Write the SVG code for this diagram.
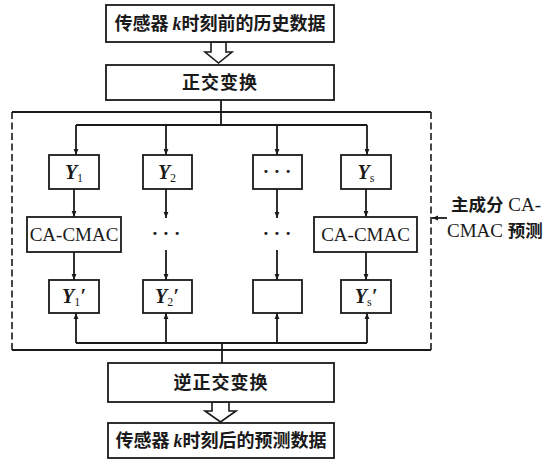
<svg xmlns="http://www.w3.org/2000/svg" width="559" height="461" viewBox="0 0 559 461">
<style>
.box{fill:#fff;stroke:#1a1a1a;stroke-width:1.8}
.hollow{fill:#fff;stroke:#1a1a1a;stroke-width:1.6;stroke-linejoin:miter}
.ln{fill:none;stroke:#1a1a1a;stroke-width:1.8}
.dash{fill:none;stroke:#1a1a1a;stroke-width:1.6;stroke-dasharray:7 3.5}
.cn{font-family:"Noto Sans CJK SC","Liberation Serif",serif;font-size:18px;font-weight:bold;fill:#1a1a1a;text-anchor:middle}
.lat{font-family:"Liberation Serif","Times New Roman",serif;font-size:19px;fill:#1a1a1a;text-anchor:middle}
.yv{font-family:"Liberation Serif","Times New Roman",serif;font-size:20px;font-weight:bold;font-style:italic;fill:#1a1a1a;text-anchor:middle}
.sub{font-style:normal;font-weight:normal;font-size:12px}
.side{font-family:"Liberation Serif","Noto Sans CJK SC",serif;font-size:19px;fill:#1a1a1a}
.side .c{font-family:"Noto Sans CJK SC",sans-serif;font-weight:bold;font-size:17.5px}
</style>
<defs>
<marker id="ah" viewBox="0 0 10 10" refX="10" refY="5" markerWidth="6" markerHeight="8" markerUnits="userSpaceOnUse" orient="auto">
<path d="M0,1 L10,5 L0,9 Z" fill="#1a1a1a"/>
</marker>
</defs>

<g id="frame">
<line class="ln" x1="12" y1="112" x2="431" y2="112"/>
<line class="ln" x1="12" y1="350" x2="431" y2="350"/>
<line class="dash" x1="12" y1="112" x2="12" y2="350"/>
<line class="dash" x1="431" y1="112" x2="431" y2="350"/>
</g>

<g id="connectors">
<polygon class="hollow" points="211,42 211,52 205,52 218.5,63 232,52 226,52 226,42"/>
<polygon class="hollow" points="212,402 212,411 205,411 220.5,422 236,411 229,411 229,402"/>
<line class="ln" x1="221" y1="100" x2="221" y2="125"/>
<line class="ln" x1="76" y1="125" x2="367" y2="125"/>
<line class="ln" x1="76" y1="125" x2="76" y2="155" marker-end="url(#ah)"/>
<line class="ln" x1="166" y1="125" x2="166" y2="155" marker-end="url(#ah)"/>
<line class="ln" x1="277" y1="125" x2="277" y2="155" marker-end="url(#ah)"/>
<line class="ln" x1="367" y1="125" x2="367" y2="155" marker-end="url(#ah)"/>
<line class="ln" x1="74" y1="189" x2="74" y2="217" marker-end="url(#ah)"/>
<line class="ln" x1="166" y1="189" x2="166" y2="218" marker-end="url(#ah)"/>
<line class="ln" x1="277" y1="189" x2="277" y2="218" marker-end="url(#ah)"/>
<line class="ln" x1="366" y1="189" x2="366" y2="217" marker-end="url(#ah)"/>
<line class="ln" x1="74" y1="252" x2="74" y2="280" marker-end="url(#ah)"/>
<line class="ln" x1="166" y1="250" x2="166" y2="280" marker-end="url(#ah)"/>
<line class="ln" x1="277" y1="250" x2="277" y2="280" marker-end="url(#ah)"/>
<line class="ln" x1="366" y1="252" x2="366" y2="280" marker-end="url(#ah)"/>
<line class="ln" x1="76" y1="343" x2="367" y2="343"/>
<line class="ln" x1="76" y1="343" x2="76" y2="313" marker-end="url(#ah)"/>
<line class="ln" x1="166" y1="343" x2="166" y2="313" marker-end="url(#ah)"/>
<line class="ln" x1="277" y1="343" x2="277" y2="313" marker-end="url(#ah)"/>
<line class="ln" x1="367" y1="343" x2="367" y2="313" marker-end="url(#ah)"/>
<line class="ln" x1="222" y1="343" x2="222" y2="363"/>
<line class="ln" x1="447" y1="218" x2="432" y2="218" marker-end="url(#ah)"/>
</g>

<g id="n_src">
<rect class="box" x="106" y="5" width="228" height="37"/>
<text class="cn" x="220" y="30">传感器 <tspan font-family="Liberation Serif,serif" font-style="italic">k</tspan>时刻前的历史数据</text>
</g>
<g id="n_ortho">
<rect class="box" x="106" y="65" width="228" height="35"/>
<text class="cn" x="220" y="89" letter-spacing="1">正交变换</text>
</g>

<g id="n_y1"><rect class="box" x="49" y="155" width="50" height="34"/><text class="yv" x="74" y="179">Y<tspan class="sub" dy="3">1</tspan></text></g>
<g id="n_y2"><rect class="box" x="143" y="155" width="49" height="34"/><text class="yv" x="167" y="179">Y<tspan class="sub" dy="3">2</tspan></text></g>
<g id="n_ydots"><rect class="box" x="253" y="155" width="49" height="34"/><text class="lat" x="277" y="178" font-weight="bold">· · ·</text></g>
<g id="n_ys"><rect class="box" x="341" y="155" width="50" height="34"/><text class="yv" x="366" y="179">Y<tspan class="sub" font-style="italic" dy="3">s</tspan></text></g>

<g id="n_cmac1"><rect class="box" x="27" y="217" width="94" height="35"/><text class="lat" x="74" y="241">CA-CMAC</text></g>
<g id="n_dots2"><text class="lat" x="166" y="240" font-weight="bold">· · ·</text></g>
<g id="n_dots3"><text class="lat" x="277" y="240" font-weight="bold">· · ·</text></g>
<g id="n_cmacs"><rect class="box" x="314" y="217" width="103" height="35"/><text class="lat" x="365.5" y="241">CA-CMAC</text></g>

<g id="n_y1p"><rect class="box" x="49" y="280" width="50" height="33"/><text class="yv" x="74" y="303">Y<tspan class="sub" dy="3">1</tspan><tspan dy="-3">′</tspan></text></g>
<g id="n_y2p"><rect class="box" x="143" y="280" width="49" height="33"/><text class="yv" x="167" y="303">Y<tspan class="sub" dy="3">2</tspan><tspan dy="-3">′</tspan></text></g>
<g id="n_ydp"><rect class="box" x="253" y="280" width="49" height="33"/></g>
<g id="n_ysp"><rect class="box" x="341" y="280" width="50" height="33"/><text class="yv" x="366" y="303">Y<tspan class="sub" font-style="italic" dy="3">s</tspan><tspan dy="-3">′</tspan></text></g>

<g id="n_inv">
<rect class="box" x="108" y="363" width="226" height="39"/>
<text class="cn" x="221" y="389" letter-spacing="1">逆正交变换</text>
</g>
<g id="n_out">
<rect class="box" x="108" y="423" width="226" height="35"/>
<text class="cn" x="221" y="447">传感器 <tspan font-family="Liberation Serif,serif" font-style="italic">k</tspan>时刻后的预测数据</text>
</g>

<g id="label">
<text class="side" x="451" y="211"><tspan class="c">主成分</tspan> CA-</text>
<text class="side" x="447" y="237">CMAC <tspan class="c">预测</tspan></text>
</g>
</svg>
